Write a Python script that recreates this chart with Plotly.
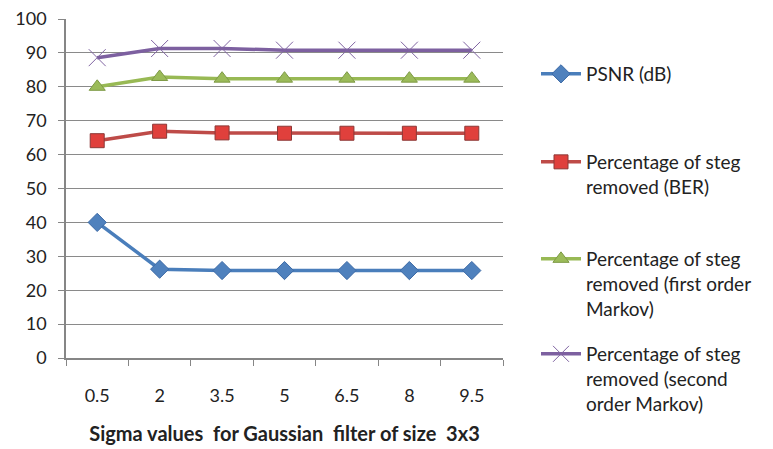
import plotly.graph_objects as go

categories = ["0.5", "2", "3.5", "5", "6.5", "8", "9.5"]
psnr = [40.0, 26.2, 25.8, 25.8, 25.8, 25.8, 25.8]
ber = [64.1, 66.9, 66.4, 66.3, 66.3, 66.3, 66.3]
first_order = [80.0, 82.9, 82.4, 82.4, 82.4, 82.4, 82.4]
second_order = [88.6, 91.3, 91.3, 90.8, 90.8, 90.8, 90.8]
y_ticks = [0, 10, 20, 30, 40, 50, 60, 70, 80, 90, 100]

FONT = "Lato"
xs = list(range(len(categories)))

fig = go.Figure()
fig.add_trace(go.Scatter(
    x=xs, y=psnr, name="PSNR (dB)", mode="lines+markers",
    line=dict(color="#4A7EBB", width=3.5),
    marker=dict(symbol="diamond", size=14, color="#4F81BD", line=dict(color="#3C6AA6", width=1)),
    legend="legend"))
fig.add_trace(go.Scatter(
    x=xs, y=ber, name="Percentage of steg<br>removed (BER)", mode="lines+markers",
    line=dict(color="#BE4B48", width=3.5),
    marker=dict(symbol="square", size=14, color="#E0403C", line=dict(color="#8C3836", width=1)),
    legend="legend2"))
fig.add_trace(go.Scatter(
    x=xs, y=first_order, name="Percentage of steg<br>removed (first order<br>Markov)", mode="lines+markers",
    line=dict(color="#98B954", width=3.5),
    marker=dict(symbol="triangle-up", size=14, color="#9BBB59", line=dict(color="#7E9A45", width=1)),
    legend="legend3"))
fig.add_trace(go.Scatter(
    x=xs, y=second_order, name="Percentage of steg<br>removed (second<br>order Markov)", mode="lines+markers",
    line=dict(color="#7D60A0", width=3.5),
    marker=dict(symbol="x-thin-open", size=17, color="#8064A2", line=dict(color="#7D6A8C", width=1)),
    legend="legend4"))

leg_common = dict(xref="container", yref="container", xanchor="left", yanchor="top",
                  valign="top", bgcolor="rgba(0,0,0,0)",
                  font=dict(family=FONT, size=19, color="#222222"), itemwidth=40)
H = 449.0
LX = 536 / 773
fig.update_layout(
    width=773, height=449,
    paper_bgcolor="white", plot_bgcolor="white",
    margin=dict(l=66, r=270, t=19, b=91, autoexpand=False),
    font=dict(family=FONT, size=18, color="#222222"),
    legend=dict(x=LX, y=1 - (75 - 20) / H, **leg_common),
    legend2=dict(x=LX, y=1 - (163 - 20) / H, **leg_common),
    legend3=dict(x=LX, y=1 - (260 - 20) / H, **leg_common),
    legend4=dict(x=LX, y=1 - (355 - 20) / H, **leg_common),
    showlegend=True,
)
fig.update_xaxes(
    range=[-0.5, 6.5], tickvals=xs, ticktext=categories, ticks="",
    showgrid=False, showline=True, linecolor="#868686", linewidth=1.5,
    zeroline=False, ticklabelstandoff=21, automargin=False,
    tickfont=dict(family=FONT, size=18, color="#222222"),
    minor=dict(tickvals=[i - 0.5 for i in range(len(categories) + 1)], ticks="outside",
               ticklen=6, tickcolor="#868686", showgrid=False),
    title=dict(text="<b>Sigma values&nbsp; for Gaussian&nbsp; filter of size&nbsp; 3x3</b>",
               font=dict(family=FONT, size=20, color="#222222"), standoff=22),
)
fig.update_yaxes(
    range=[0, 100], tickvals=y_ticks, ticks="outside", ticklen=6, tickcolor="#868686",
    showgrid=True, gridcolor="#8A8A8A", gridwidth=1, automargin=False,
    showline=True, linecolor="#868686", linewidth=1.5, zeroline=False,
    ticklabelstandoff=8,
    tickfont=dict(family=FONT, size=18, color="#222222"),
)
fig.write_html("out.html", config={"displayModeBar": False},
               post_script="document.body.style.margin='0';document.body.style.overflow='hidden';")
